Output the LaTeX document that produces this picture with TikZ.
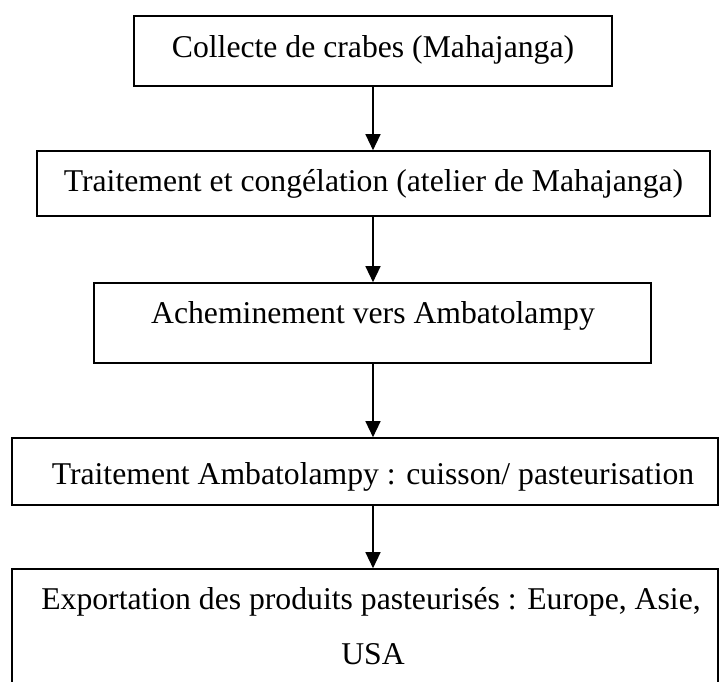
\documentclass[tikz,border=0pt]{standalone}
\usepackage{fontspec}
\setmainfont{Liberation Serif}
\usetikzlibrary{arrows.meta}
\begin{document}
\begin{tikzpicture}[x=1pt,y=-1pt,
  stepbox/.style={draw=black, line width=1.6pt, inner sep=0pt, rectangle},
  steptext/.style={anchor=base, inner sep=0pt, font=\fontsize{31.7pt}{38pt}\selectfont},
  flow/.style={draw=black, line width=1.3pt, -{Triangle[length=16pt,width=15pt]}}]
\useasboundingbox (0,0) rectangle (720,682);
\clip (0,0) rectangle (720,682);

% boxes of the process chain
\node[stepbox, minimum width=478pt, minimum height=70pt]  (b1) at (373,51) {};
\node[stepbox, minimum width=673pt, minimum height=65pt]  (b2) at (373.5,183.5) {};
\node[stepbox, minimum width=557pt, minimum height=80pt]  (b3) at (372.5,323) {};
\node[stepbox, minimum width=706pt, minimum height=67pt]  (b4) at (365,471.5) {};
\node[stepbox, minimum width=706pt, minimum height=151pt] (b5) at (365,644.5) {};

% labels
\node[steptext] (t1)  at (373,58)   {Collecte de crabes (Mahajanga)};
\node[steptext] (t2)  at (373.5,191) {Traitement et congélation (atelier de Mahajanga)};
\node[steptext] (t3)  at (373,323)  {Acheminement vers Ambatolampy};
\node[steptext] (t4)  at (373,484)  {Traitement Ambatolampy : cuisson/ pasteurisation};
\node[steptext] (t5a) at (371,609)  {Exportation des produits pasteurisés : Europe, Asie,};
\node[steptext] (t5b) at (373,664)  {USA};

% vertical axis of the arrows
\coordinate (axis) at (373,0);
\draw[flow] (axis |- b1.south) -- (axis |- b2.north);
\draw[flow] (axis |- b2.south) -- (axis |- b3.north);
\draw[flow] (axis |- b3.south) -- (axis |- b4.north);
\draw[flow] (axis |- b4.south) -- (axis |- b5.north);
\end{tikzpicture}
\end{document}
